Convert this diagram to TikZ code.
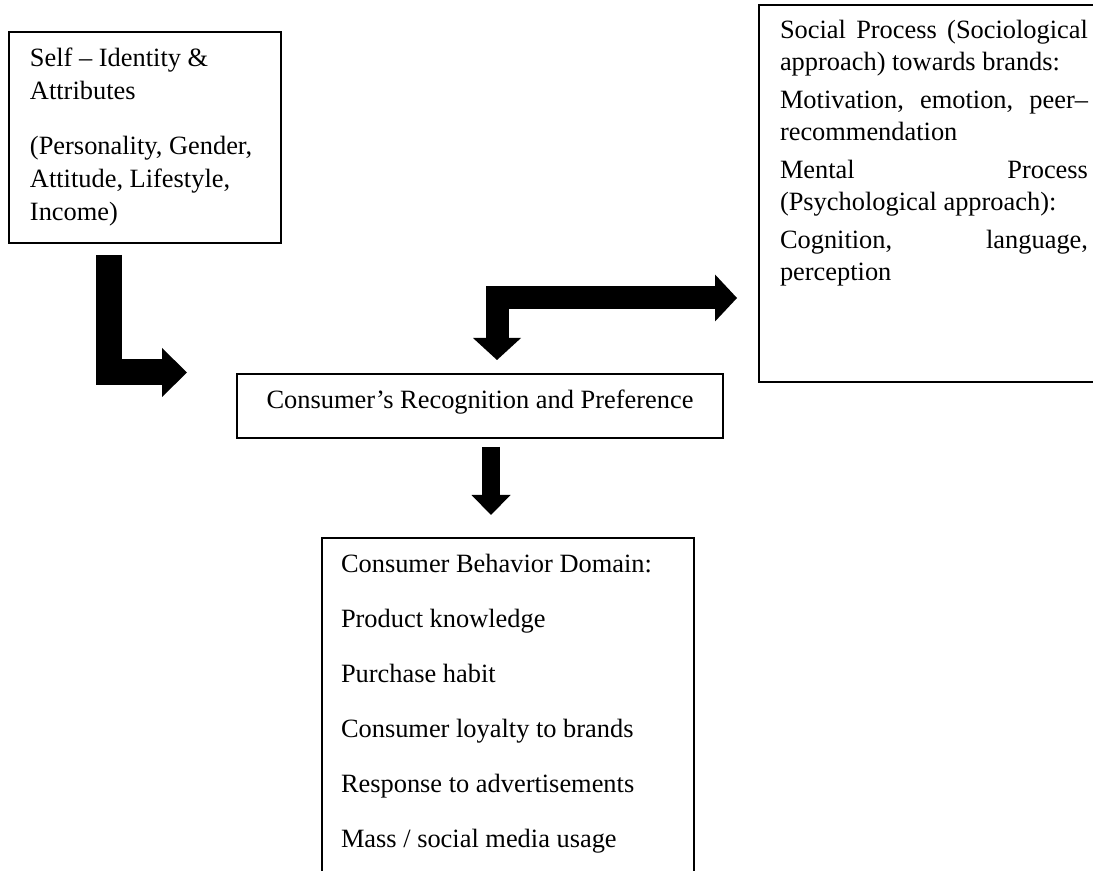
\documentclass[tikz,border=0pt]{standalone}
\usepackage{fontspec}
\setmainfont{Liberation Serif}
\usetikzlibrary{arrows.meta,calc}

% a full-width justified line
\newcommand{\jline}[1]{\makebox[\linewidth][s]{#1}}

\begin{document}
\begin{tikzpicture}[x=0.5pt, y=-0.5pt,
    box/.style={draw, line width=0.8pt, anchor=north west, outer sep=0pt,
                inner ysep=0pt, font=\fontsize{13.2pt}{16.5pt}\selectfont}]

    \useasboundingbox (0,0) rectangle (1093,871);
    \clip (0,0) rectangle (1093,871);

    \node[box, inner xsep=10.5pt, text height=17.5pt, text depth=88pt] (self) at (9,32)
        {\parbox[t]{115pt}{\raggedright Self – Identity \&\\ Attributes\\[11pt]
         (Personality, Gender,\\ Attitude, Lifestyle,\\ Income)}};

    \node[box, font=\fontsize{13.2pt}{15.75pt}\selectfont, inner xsep=10.5pt,
          text height=17pt, text depth=171.5pt] (social) at (759,5)
        {\parbox[t]{154pt}{\raggedright
         \jline{Social Process (Sociological}\\ approach) towards brands:\\[3.5pt]
         \jline{Motivation, emotion, peer–}\\ recommendation\\[3.5pt]
         \jline{Mental Process}\\ (Psychological approach):\\[3.5pt]
         \jline{Cognition, language,}\\ perception}};

    \node[box, inner xsep=0pt, text height=17.5pt, text depth=14.5pt] (rec) at (237,374)
        {\makebox[243pt]{Consumer’s Recognition and Preference}};

    \node[box, inner xsep=9.5pt, text height=17.5pt, text depth=163.5pt] (beh) at (322,538)
        {\parbox[t]{167pt}{\raggedright Consumer Behavior Domain:\\[11pt] Product knowledge\\[11pt]
         Purchase habit\\[11pt] Consumer loyalty to brands\\[11pt]
         Response to advertisements\\[11pt] Mass / social media usage}};

    % block arrows
    \coordinate (l-top) at ($(self.south west)+(99.5,12)$);
    \coordinate (l-tip) at ($(rec.north west)+(-50,-1.5)$);
    \coordinate (r-tip) at ($(social.south west)+(-22,-84)$);
    \coordinate (d-tip) at ($(rec.north)+(17,-14)$);
    \coordinate (b-top) at ($(rec.south)+(11,9)$);
    \coordinate (b-tip) at ($(beh.north)+(-17,-23)$);

    \draw[line width=13pt, -{Triangle[width=24.5pt, length=12.5pt, line width=0pt]}] (l-top) |- (l-tip);
    \draw[line width=11.5pt, {Triangle[width=23.5pt, length=11pt, line width=0pt]}-{Triangle[width=24pt, length=11pt, line width=0pt]}]
        (r-tip) -| (d-tip);
    \draw[line width=9pt, -{Triangle[width=19.5pt, length=10pt, line width=0pt]}] (b-top) -- (b-tip);

\end{tikzpicture}
\end{document}
